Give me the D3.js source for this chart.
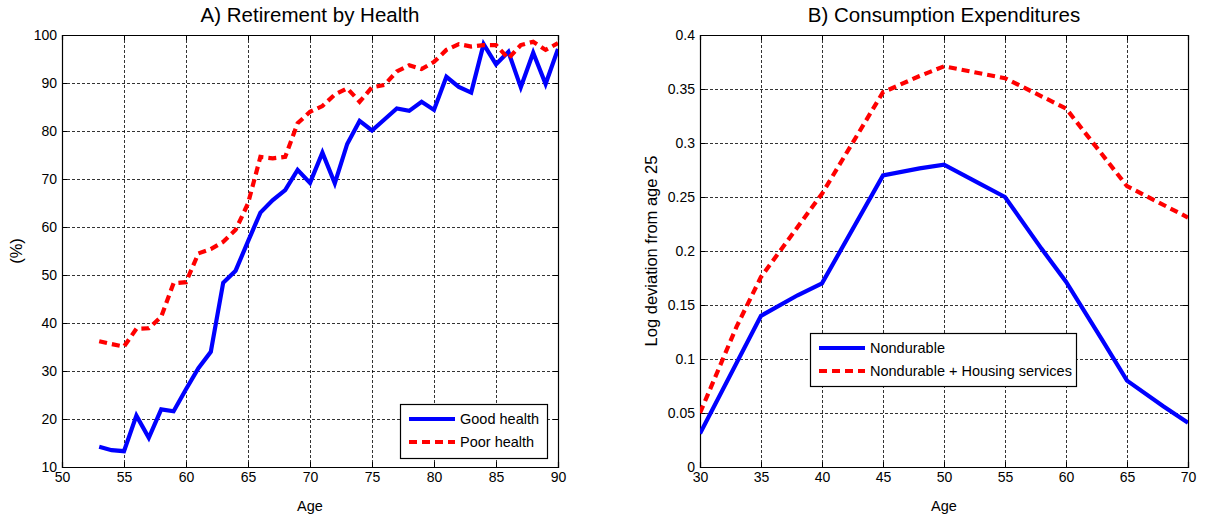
<!DOCTYPE html>
<html>
<head>
<meta charset="utf-8">
<script src="https://cdn.jsdelivr.net/npm/d3@7"></script>
<style>
  html, body { margin: 0; padding: 0; background: #fff; }
  svg { display: block; font-family: "Liberation Sans", Arial, sans-serif; }
</style>
</head>
<body>
<svg id="chart" width="1205" height="516"></svg>
<script>
// Panel A: share retired by age and health status (%)
const retireAges = d3.range(53, 91);
const goodHealth = [14.2, 13.5, 13.3, 20.7, 16.1, 22.0, 21.6, 26.2, 30.6, 34.0,
                    48.4, 50.9, 57.0, 63.0, 65.6, 67.7, 71.9, 69.2, 75.5, 69.1,
                    77.3, 82.1, 80.1, 82.4, 84.7, 84.2, 86.1, 84.4, 91.3, 89.2,
                    88.0, 98.1, 93.9, 96.5, 89.1, 96.3, 89.8, 97.1];
const poorHealth = [36.2, 35.6, 35.1, 38.8, 38.9, 41.3, 48.3, 48.5, 54.5, 55.4,
                    56.9, 59.4, 64.9, 74.6, 74.3, 74.6, 81.6, 84.0, 85.2, 87.6,
                    88.9, 86.1, 89.1, 89.6, 92.4, 93.7, 92.9, 94.4, 96.9, 98.1,
                    97.6, 97.9, 97.9, 95.1, 97.9, 98.6, 96.9, 98.3];
const retireXTicks = [50, 55, 60, 65, 70, 75, 80, 85, 90];
const retireYTicks = [10, 20, 30, 40, 50, 60, 70, 80, 90, 100];

// Panel B: log consumption relative to age 25
const ndAges = [30, 35, 38, 40, 45, 48, 50, 53, 55, 58, 60, 63, 65, 68, 70];
const nondurable = [0.031, 0.140, 0.159, 0.170, 0.270, 0.2765, 0.280, 0.262, 0.250, 0.202, 0.1716, 0.117, 0.080, 0.056, 0.041];
const housingAges = [30, 33, 35, 40, 45, 48, 50, 55, 60, 65, 70];
const ndHousing = [0.050, 0.130, 0.176, 0.253, 0.347, 0.362, 0.371, 0.360, 0.332, 0.260, 0.231];
const consXTicks = [30, 35, 40, 45, 50, 55, 60, 65, 70];
const consYTicks = [0, 0.05, 0.1, 0.15, 0.2, 0.25, 0.3, 0.35, 0.4];

const svg = d3.select("#chart");
const BLUE = "#0000ff", RED = "#ff0000";
const FONT = "Liberation Sans, Arial, sans-serif";

function panel(opts) {
  const g = svg.append("g");
  const x = d3.scaleLinear().domain(opts.xDomain).range([opts.left, opts.right]);
  const y = d3.scaleLinear().domain(opts.yDomain).range([opts.bottom, opts.top]);

  // dashed grid
  const grid = g.append("g").attr("stroke", "#000").attr("stroke-width", 0.8)
    .attr("stroke-dasharray", "3,2").attr("shape-rendering", "crispEdges");
  grid.selectAll(".gx").data(opts.xTicks.slice(1, -1)).join("line")
    .attr("x1", d => Math.round(x(d)) + 0.5).attr("x2", d => Math.round(x(d)) + 0.5)
    .attr("y1", opts.top).attr("y2", opts.bottom);
  grid.selectAll(".gy").data(opts.yTicks.slice(1, -1)).join("line")
    .attr("y1", d => Math.round(y(d)) + 0.5).attr("y2", d => Math.round(y(d)) + 0.5)
    .attr("x1", opts.left).attr("x2", opts.right);

  // axes with inward ticks on all four sides
  const fmt = opts.yFormat || (d => d);
  const ax = [
    g.append("g").attr("transform", `translate(0,${opts.bottom})`)
      .call(d3.axisBottom(x).tickValues(opts.xTicks).tickSize(-5).tickPadding(5)),
    g.append("g").attr("transform", `translate(0,${opts.top})`)
      .call(d3.axisTop(x).tickValues(opts.xTicks).tickSize(-5).tickFormat("")),
    g.append("g").attr("transform", `translate(${opts.left},0)`)
      .call(d3.axisLeft(y).tickValues(opts.yTicks).tickSize(-5).tickPadding(5).tickFormat(fmt)),
    g.append("g").attr("transform", `translate(${opts.right},0)`)
      .call(d3.axisRight(y).tickValues(opts.yTicks).tickSize(-5).tickFormat(""))
  ];
  ax.forEach(a => {
    a.select(".domain").attr("stroke", "#000").attr("stroke-width", 1.2);
    a.selectAll(".tick line").attr("stroke", "#000");
    a.selectAll("text").attr("font-size", 14).attr("fill", "#000").attr("font-family", FONT);
  });

  // series
  const clip = "clip" + opts.id;
  g.append("clipPath").attr("id", clip).append("rect")
    .attr("x", opts.left).attr("y", opts.top - 3)
    .attr("width", opts.right - opts.left).attr("height", opts.bottom - opts.top + 6);
  opts.series.forEach(s => {
    const line = d3.line().x((d, i) => x(s.x[i])).y(d => y(d));
    g.append("path").datum(s.y).attr("d", line)
      .attr("clip-path", `url(#${clip})`)
      .attr("fill", "none").attr("stroke", s.color).attr("stroke-width", 4.2)
      .attr("stroke-linejoin", "miter")
      .attr("stroke-dasharray", s.dash || null);
  });

  // titles
  g.append("text").attr("x", (opts.left + opts.right) / 2).attr("y", 22)
    .attr("text-anchor", "middle").attr("font-size", 20.5).text(opts.title);
  g.append("text").attr("x", (opts.left + opts.right) / 2).attr("y", 511)
    .attr("text-anchor", "middle").attr("font-size", 14.5).text("Age");
  g.append("text")
    .attr("transform", `translate(${opts.yLabelX},${(opts.top + opts.bottom) / 2}) rotate(-90)`)
    .attr("text-anchor", "middle").attr("font-size", 16.5).text(opts.yLabel);

  // legend
  const L = opts.legend;
  const lg = g.append("g");
  lg.append("rect").attr("x", L.x + 0.5).attr("y", L.y + 0.5).attr("width", L.w).attr("height", L.h)
    .attr("fill", "#fff").attr("stroke", "#000").attr("stroke-width", 1.2);
  opts.series.forEach((s, i) => {
    const cy = L.y + 15 + i * 23;
    lg.append("line").attr("x1", L.x + 9).attr("x2", L.x + 55).attr("y1", cy).attr("y2", cy)
      .attr("stroke", s.color).attr("stroke-width", 4.2).attr("stroke-dasharray", s.dash || null);
    lg.append("text").attr("x", L.x + 60).attr("y", cy + 5).attr("font-size", 14.5).text(s.name);
  });
}

panel({
  id: "A", left: 62, right: 558, top: 35, bottom: 467,
  xDomain: [50, 90], yDomain: [10, 100],
  xTicks: retireXTicks, yTicks: retireYTicks,
  title: "A) Retirement by Health", yLabel: "(%)", yLabelX: 22,
  legend: { x: 400, y: 404, w: 147, h: 54 },
  series: [
    { name: "Good health", x: retireAges, y: goodHealth, color: BLUE },
    { name: "Poor health", x: retireAges, y: poorHealth, color: RED, dash: "8,5" }
  ]
});

panel({
  id: "B", left: 700, right: 1188, top: 35, bottom: 467,
  xDomain: [30, 70], yDomain: [0, 0.4],
  xTicks: consXTicks, yTicks: consYTicks, yFormat: d => d === 0 ? "0" : String(d),
  title: "B) Consumption Expenditures", yLabel: "Log deviation from age 25", yLabelX: 657,
  legend: { x: 810, y: 333, w: 266, h: 53 },
  series: [
    { name: "Nondurable", x: ndAges, y: nondurable, color: BLUE },
    { name: "Nondurable + Housing services", x: housingAges, y: ndHousing, color: RED, dash: "8,5" }
  ]
});
</script>
</body>
</html>
